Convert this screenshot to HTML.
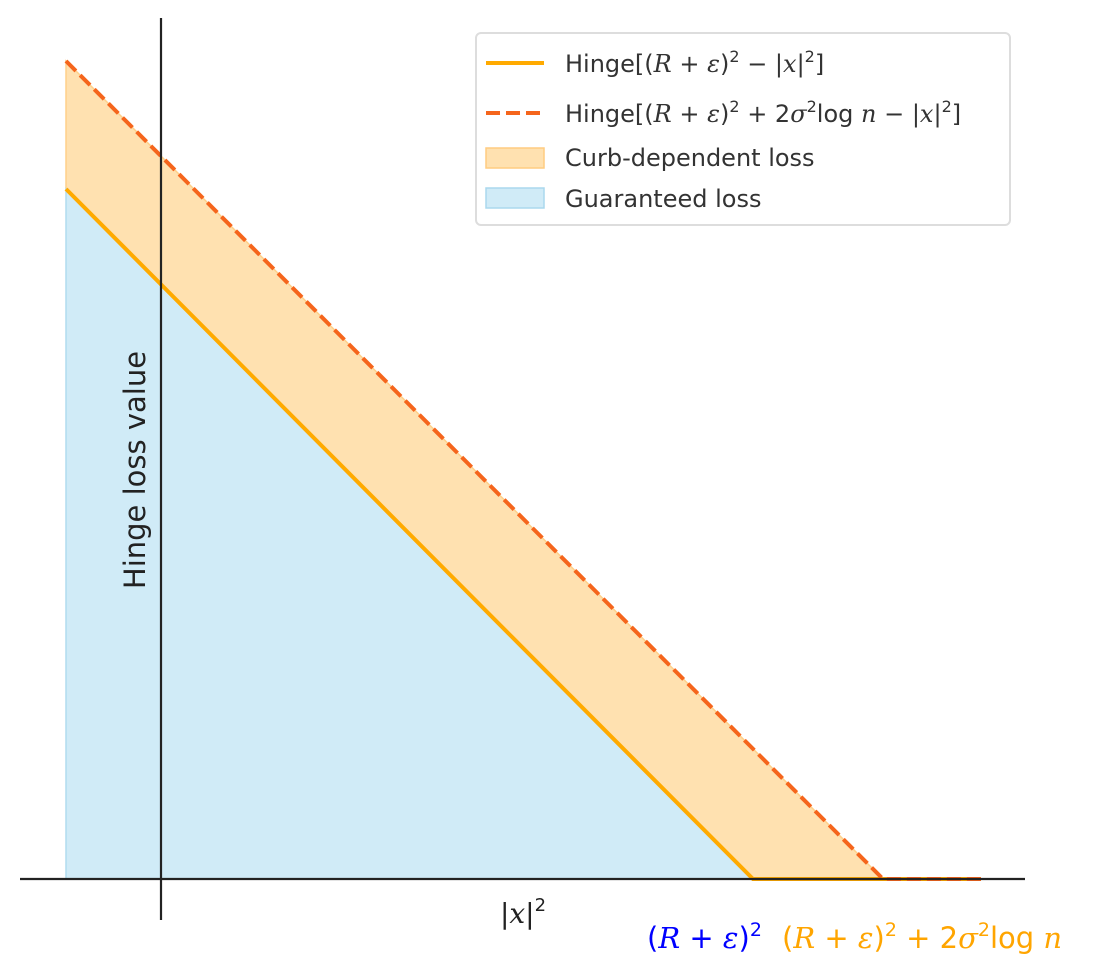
<!DOCTYPE html>
<html><head><meta charset="utf-8"><style>
body{margin:0;background:#fff;}
svg{display:block;font-family:"DejaVu Sans","Liberation Sans",sans-serif;}
.m{font-family:"DejaVu Serif","Liberation Serif",serif;font-style:italic;}
</style></head><body>
<svg id="chart" width="1103" height="979">
<g id="plot"></g>
<line x1="20" y1="879" x2="1025" y2="879" stroke="#222" stroke-width="2.2"/>
<line x1="161" y1="18" x2="161" y2="920" stroke="#222" stroke-width="2.2"/>
<text x="145" y="470" font-size="29" fill="#222" text-anchor="middle" transform="rotate(-90 145 470)">Hinge loss value</text>
<text x="523" y="923" font-size="28" fill="#222" text-anchor="middle">|<tspan class="m">x</tspan>|<tspan font-size="18" dy="-12">2</tspan></text>
<text x="647" y="948" font-size="29" fill="#0000ff">(<tspan class="m">R</tspan> + <tspan class="m">ε</tspan>)<tspan font-size="19" dy="-12">2</tspan></text>
<text x="782" y="948" font-size="29" fill="#ffa500">(<tspan class="m">R</tspan> + <tspan class="m">ε</tspan>)<tspan font-size="19" dy="-12">2</tspan><tspan dy="12"> + 2</tspan><tspan class="m">σ</tspan><tspan font-size="19" dy="-12">2</tspan><tspan dy="12">log </tspan><tspan class="m">n</tspan></text>
<g>
<rect x="476" y="33" width="534" height="192" rx="5" fill="#fff" fill-opacity="0.85" stroke="#ddd" stroke-width="2"/>
<line x1="486" y1="63" x2="544" y2="63" stroke="#ffaa00" stroke-width="4"/>
<text x="565" y="72" font-size="24" fill="#333">Hinge[(<tspan class="m">R</tspan> + <tspan class="m">ε</tspan>)<tspan font-size="16" dy="-10">2</tspan><tspan dy="10"> − |</tspan><tspan class="m">x</tspan>|<tspan font-size="16" dy="-10">2</tspan><tspan dy="10">]</tspan></text>
<line x1="486" y1="113" x2="544" y2="113" stroke="#f5651c" stroke-width="4" stroke-dasharray="14,6"/>
<text x="565" y="122" font-size="24" fill="#333">Hinge[(<tspan class="m">R</tspan> + <tspan class="m">ε</tspan>)<tspan font-size="16" dy="-10">2</tspan><tspan dy="10"> + 2</tspan><tspan class="m">σ</tspan><tspan font-size="16" dy="-10">2</tspan><tspan dy="10">log</tspan><tspan class="m"> n</tspan> − |<tspan class="m">x</tspan>|<tspan font-size="16" dy="-10">2</tspan><tspan dy="10">]</tspan></text>
<rect x="486" y="148" width="58" height="20" fill="#ffe1b0" stroke="#ffcc80" stroke-width="1.5"/>
<text x="565" y="166" font-size="24" fill="#333">Curb-dependent loss</text>
<rect x="486" y="188" width="58" height="20" fill="#d0ebf7" stroke="#aad8ee" stroke-width="1.5"/>
<text x="565" y="207" font-size="24" fill="#333">Guaranteed loss</text>
</g>
</svg>
<script>
const solidX = [-0.95, 5.92, 8.2];
const solidY = [6.9, 0, 0];
const dashedX = [-0.95, 7.22, 8.2];
const dashedY = [8.18, 0, 0];
const px = v => 161 + v * 100;
const py = v => 879 - v * 100;
const ns = 'http://www.w3.org/2000/svg';
const g = document.getElementById('plot');
function mk(tag, attrs){const e=document.createElementNS(ns,tag);for(const k in attrs)e.setAttribute(k,attrs[k]);g.appendChild(e);return e;}
const pts = (xs, ys) => xs.map((x,i)=>px(x)+','+py(ys[i]));
// orange fill between
let op = pts(dashedX,dashedY).concat(pts(solidX,solidY).reverse());
const of = mk('polygon',{points:op.join(' '),fill:'#ffe1b0',stroke:'#ffd08a','stroke-width':1.5});


let bp = pts(solidX,solidY).concat([px(solidX[solidX.length-1])+','+py(0), px(solidX[0])+','+py(0)]);
const bf = mk('polygon',{points:bp.join(' '),fill:'#d0ebf7',stroke:'#b0dcef','stroke-width':1.5});


const sl = mk('polyline',{points:pts(solidX,solidY).join(' '),fill:'none',stroke:'#ffaa00','stroke-width':4});


const dl = mk('polyline',{points:pts(dashedX,dashedY).join(' '),fill:'none',stroke:'#f5651c','stroke-width':4,'stroke-dasharray':'14,6'});


</script>
</body></html>
